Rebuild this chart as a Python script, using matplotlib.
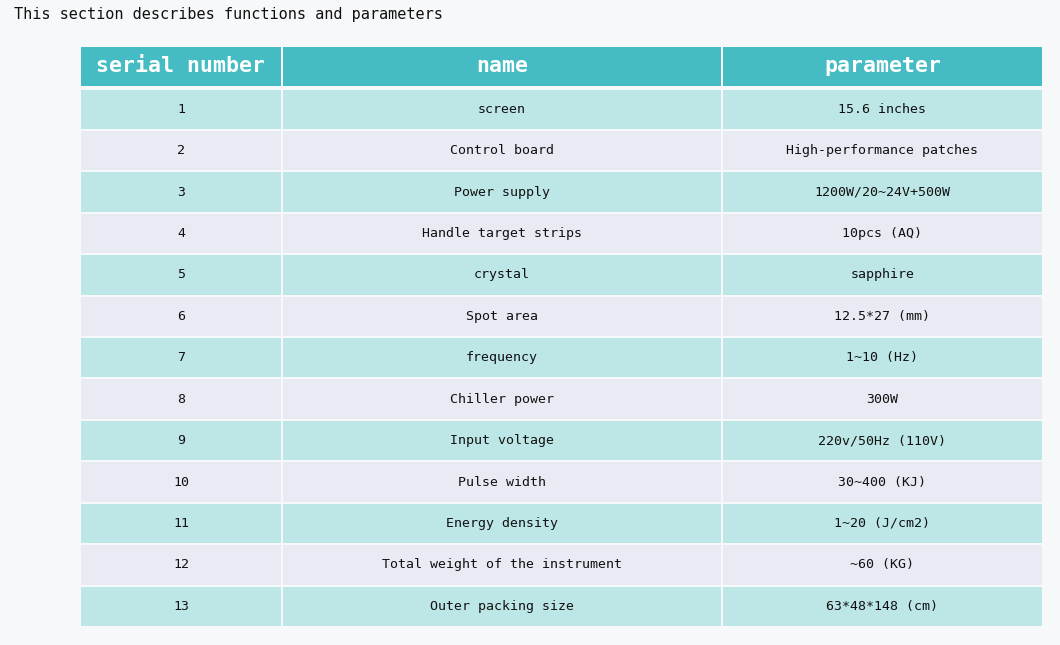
import matplotlib
matplotlib.use("Agg")
import matplotlib.pyplot as plt
from matplotlib.patches import Rectangle

title = "This section describes functions and parameters"
headers = ["serial number", "name", "parameter"]
serials = [str(i) for i in range(1, 14)]
names = ["screen", "Control board", "Power supply", "Handle target strips", "crystal",
         "Spot area", "frequency", "Chiller power", "Input voltage", "Pulse width",
         "Energy density", "Total weight of the instrument", "Outer packing size"]
params = ["15.6 inches", "High-performance patches", "1200W/20~24V+500W", "10pcs (AQ)",
          "sapphire", "12.5*27 (mm)", "1~10 (Hz)", "300W", "220v/50Hz (110V)",
          "30~400 (KJ)", "1~20 (J/cm2)", "~60 (KG)", "63*48*148 (cm)"]

W, H = 1060, 645
fig = plt.figure(figsize=(W/100, H/100), dpi=100)
ax = fig.add_axes([0, 0, 1, 1])
ax.set_xlim(0, W); ax.set_ylim(H, 0); ax.axis("off")
fig.patch.set_facecolor("#f7f8f9")

mono = ["DejaVu Sans Mono"]
ax.text(14, 15, title, fontsize=11, family=mono, va="center", ha="left", color="#111")

cols = [80, 282, 722, 1043]
gap = 2
# header
hy0, hy1 = 47, 86
for i in range(3):
    ax.add_patch(Rectangle((cols[i]+gap/2, hy0), cols[i+1]-cols[i]-gap, hy1-hy0, color="#45bcc4", lw=0))
    ax.text((cols[i]+cols[i+1])/2, (hy0+hy1)/2, headers[i], fontsize=15.5, family=mono,
            weight="bold", color="white", ha="center", va="center")
y0 = 88.5
rh = (627 - y0) / 13
for r in range(13):
    color = "#bde6e6" if r % 2 == 0 else "#e8eaf4"
    top = y0 + r*rh
    vals = [serials[r], names[r], params[r]]
    for i in range(3):
        ax.add_patch(Rectangle((cols[i]+gap/2, top+gap/2), cols[i+1]-cols[i]-gap, rh-gap, color=color, lw=0))
        ax.text((cols[i]+cols[i+1])/2, top+rh/2, vals[i], fontsize=9.5, family=mono,
                color="#111", ha="center", va="center")
fig.savefig("out.png", dpi=100)
